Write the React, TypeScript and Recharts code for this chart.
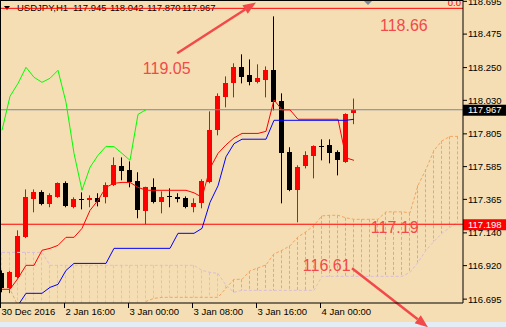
import { Bar, ComposedChart, Line, ReferenceDot, ReferenceLine, XAxis, YAxis } from "recharts";

const FONT = '"Liberation Sans", Arial, sans-serif';
const BG = "#F5DEB3";
const BULL = "#FF0000";
const BEAR = "#000000";
const ANNO = "#f24a4a";

// USDJPY H1, one entry per bar (red = up, black = down)
const opens = [
  116.868, 116.77, 116.841, 117.11, 117.365, 117.412, 117.332, 117.379, 117.473, 117.312,
  117.367, 117.359, 117.372, 117.379, 117.459, 117.587, 117.56, 117.486, 117.285, 117.446,
  117.345, 117.385, 117.379, 117.372, 117.312, 117.338, 117.479, 117.829, 118.05, 118.144,
  118.252, 118.198, 118.151, 118.164, 118.232, 118.023, 117.681, 117.426, 117.587, 117.654,
  117.723, 117.728, 117.681, 117.614, 117.945,
];
const highs = [
  116.888, 116.885, 117.157, 117.432, 117.432, 117.426, 117.406, 117.479, 117.486, 117.379,
  117.412, 117.392, 117.406, 117.479, 117.647, 117.647, 117.62, 117.547, 117.45, 117.506,
  117.419, 117.439, 117.406, 117.385, 117.372, 117.5, 117.956, 118.077, 118.191, 118.279,
  118.339, 118.305, 118.272, 118.258, 118.594, 118.077, 117.715, 117.594, 117.688, 117.728,
  117.768, 117.768, 117.694, 117.943, 118.042,
];
const lows = [
  116.741, 116.735, 116.835, 117.105, 117.278, 117.325, 117.312, 117.375, 117.312, 117.305,
  117.298, 117.312, 117.318, 117.338, 117.455, 117.493, 117.446, 117.238, 117.198, 117.338,
  117.271, 117.312, 117.345, 117.305, 117.278, 117.305, 117.473, 117.795, 117.983, 118.05,
  118.144, 118.131, 118.144, 118.05, 117.963, 117.338, 117.42, 117.211, 117.573, 117.506,
  117.627, 117.607, 117.526, 117.61, 117.87,
];
const closes = [
  116.768, 116.875, 117.117, 117.379, 117.412, 117.332, 117.392, 117.473, 117.318, 117.365,
  117.363, 117.372, 117.345, 117.459, 117.594, 117.553, 117.479, 117.291, 117.446, 117.345,
  117.379, 117.379, 117.365, 117.312, 117.338, 117.486, 117.829, 118.057, 118.144, 118.252,
  118.185, 118.151, 118.178, 118.232, 118.017, 117.674, 117.426, 117.58, 117.661, 117.721,
  117.719, 117.674, 117.627, 117.936, 117.967,
];

// Ichimoku
const tenkan = [
  116.761, 116.761, 116.835, 116.922, 116.922, 117.023, 117.036, 117.056, 117.11, 117.11,
  117.17, 117.291, 117.359, 117.446, 117.473, 117.479, 117.479, 117.446, 117.426, 117.426,
  117.426, 117.426, 117.426, 117.426, 117.409, 117.379, 117.573, 117.674, 117.731, 117.778,
  117.808, 117.808, 117.808, 117.822, 118.033, 117.966, 117.966, 117.903, 117.903, 117.903,
  117.903, 117.903, 117.903, 117.644, 117.627,
];
const kijun = [
  116.653, 116.653, 116.653, 116.734, 116.734, 116.734, 116.774, 116.794, 116.888, 116.935,
  116.935, 116.935, 116.935, 116.935, 117.036, 117.036, 117.036, 117.036, 117.036, 117.036,
  117.036, 117.036, 117.137, 117.137, 117.137, 117.17, 117.345, 117.456, 117.651, 117.739,
  117.769, 117.769, 117.769, 117.769, 117.896, 117.896, 117.896, 117.896, 117.896, 117.896,
  117.896, 117.896, 117.896, 117.896, 117.903,
];
const chikou = [
  117.829, 118.057, 118.144, 118.252, 118.185, 118.151, 118.178, 118.232, 118.017, 117.674,
  117.426, 117.58, 117.661, 117.721, 117.719, 117.674, 117.627, 117.936, 117.967,
];
const spanA = [
  116.761, 116.761, 116.65, 116.58, 116.56, 116.56, 116.56, 116.56, 116.56, 116.56,
  116.56, 116.56, 116.56, 116.56, 116.56, 116.58, 116.6, 116.62, 116.68, 116.7,
  116.707, 116.707, 116.707, 116.707, 116.707, 116.707, 116.707, 116.707, 116.768, 116.828,
  116.828, 116.885, 116.905, 116.925, 116.999, 117.023, 117.053, 117.113, 117.147, 117.191,
  117.254, 117.258, 117.258, 117.241, 117.231, 117.231, 117.231, 117.231, 117.281, 117.281,
  117.281, 117.275, 117.459, 117.567, 117.694, 117.758, 117.788, 117.788,
];
const spanB = [
  117.009, 117.009, 117.009, 117.009, 117.009, 117.009, 116.922, 116.922, 116.922, 116.922,
  116.922, 116.922, 116.922, 116.922, 116.922, 116.922, 116.922, 116.922, 116.922, 116.922,
  116.922, 116.922, 116.922, 116.922, 116.922, 116.888, 116.875, 116.868, 116.788, 116.741,
  116.754, 116.754, 116.754, 116.754, 116.754, 116.754, 116.754, 116.754, 116.754, 116.754,
  116.848, 116.848, 116.848, 116.848, 116.848, 116.848, 116.848, 116.848, 116.848, 116.848,
  116.848, 116.875, 116.942, 117.023, 117.083, 117.137, 117.177, 117.211,
];

const timeTicks = [0, 8, 16, 24, 32, 40];
const timeLabels = ["30 Dec 2016", "2 Jan 16:00", "3 Jan 00:00", "3 Jan 08:00", "3 Jan 16:00", "4 Jan 00:00"];
const priceTicks = [116.695, 116.92, 117.14, 117.365, 117.585, 117.805, 118.03, 118.25, 118.475, 118.695];

const BID = 117.967;
const LOW_LINE = 117.198;
const FIBO_0 = 118.648;

const rows = spanA.map((a, i) => ({
  i,
  o: opens[i] ?? null,
  h: highs[i] ?? null,
  l: lows[i] ?? null,
  c: closes[i] ?? null,
  tenkan: tenkan[i] ?? null,
  kijun: kijun[i] ?? null,
  chikou: chikou[i] ?? null,
  a,
  b: spanB[i],
}));

function Candle(props: any) {
  const { x, y, width, height, payload } = props;
  if (payload.o == null) return null;
  const top = Math.min(y, y + height);
  const h = Math.abs(height);
  const k = h / (payload.h - payload.l || 1);
  const bodyTop = top + (payload.h - Math.max(payload.o, payload.c)) * k;
  const bodyBot = top + (payload.h - Math.min(payload.o, payload.c)) * k;
  const bx = Math.round(x + width / 2 - 2.5);
  const color = payload.c >= payload.o ? BULL : BEAR;
  return (
    <g>
      <line x1={bx + 2.5} x2={bx + 2.5} y1={top} y2={top + h} stroke={color} />
      <rect x={bx} y={Math.round(bodyTop)} width={5} height={Math.max(1, Math.round(bodyBot - bodyTop))} fill={color} />
    </g>
  );
}

function Hatch(props: any) {
  const { x, y, width, height, payload } = props;
  const cx = Math.round(x + width / 2 - 2.5) + 2.5;
  const color = payload.a > payload.b ? "#F4A460" : "#D8BFD8";
  return <line x1={cx} x2={cx} y1={y} y2={y + height} stroke={color} strokeDasharray="3 2" />;
}

function TimeTick({ x, y, payload }: any) {
  const label = timeLabels[timeTicks.indexOf(payload.value)];
  const tx = Math.round(x) - 1.5;
  return (
    <g>
      <line x1={tx} x2={tx} y1={y} y2={y + 5} stroke="#000" />
      <text x={tx + 1} y={y + 11.5} fontSize={9.5} fontFamily={FONT} fill="#000">
        {label}
      </text>
    </g>
  );
}

const axisBox = (text: string, fill: string) => (p: any) => {
  const vb = p.viewBox;
  const x = vb.x + vb.width;
  return (
    <g>
      <rect x={x} y={vb.y - 5} width={43} height={11} fill={fill} />
      <text x={x + 5} y={vb.y} dy="0.355em" fill="#fff" fontSize={9.5} fontFamily={FONT}>
        {text}
      </text>
    </g>
  );
};

function Arrow(p: any) {
  const { x1, y1, x2, y2 } = p;
  const ang = Math.atan2(y2 - y1, x2 - x1);
  const L = 13;
  const W = 5;
  const bx = x2 - L * Math.cos(ang);
  const by = y2 - L * Math.sin(ang);
  const px = -Math.sin(ang) * W;
  const py = Math.cos(ang) * W;
  return (
    <g>
      <line x1={x1} y1={y1} x2={bx} y2={by} stroke={ANNO} strokeWidth={2.5} />
      <polygon points={`${x2},${y2} ${bx + px},${by + py} ${bx - px},${by - py}`} fill={ANNO} />
    </g>
  );
}

const note = (text: string) => (p: any) => (
  <text x={p.cx} y={p.cy} fontSize={16} fontFamily={FONT} fill={ANNO}>
    {text}
  </text>
);

export default function App() {
  return (
    <div style={{ position: "fixed", left: 0, top: 0, width: 506, height: 327, background: BG }}>
      {/* chart header, under the plot */}
      <svg width={506} height={327} style={{ position: "absolute", left: 0, top: 0 }}>
        <polygon points="4,6 10,6 7,10" fill="#000" />
        <g fontSize={9.5} fontFamily={FONT} fill="#000">
          <text x={17} y={11}>USDJPY,H1</text>
          <text x={73} y={11}>117.945</text>
          <text x={110} y={11}>118.042</text>
          <text x={147} y={11}>117.870</text>
          <text x={182} y={11}>117.967</text>
        </g>
        <rect x={0} y={322} width={506} height={5} fill="#e4ecf5" />
      </svg>
      <div style={{ position: "absolute", left: 0, top: 0 }}>
        <ComposedChart width={506} height={327} data={rows} margin={{ top: 0, right: 0, bottom: 0, left: 1 }}>
          <XAxis
            dataKey="i"
            type="number"
            domain={[-0.125, 57.625]}
            allowDataOverflow
            ticks={timeTicks}
            interval={0}
            tick={<TimeTick />}
            tickLine={false}
            tickSize={0}
            tickMargin={0}
            height={24}
            axisLine={{ stroke: "#000" }}
          />
          <XAxis xAxisId="h" dataKey="i" type="number" domain={[-0.125, 57.625]} allowDataOverflow hide />
          <YAxis
            orientation="right"
            width={43}
            domain={[116.669, 118.704]}
            allowDataOverflow
            ticks={priceTicks}
            interval={0}
            tickFormatter={(v: number) => v.toFixed(3)}
            tick={{ fontSize: 9.5, fill: "#000", fontFamily: FONT }}
            tickLine={{ stroke: "#000" }}
            tickSize={4}
            tickMargin={1}
            axisLine={{ stroke: "#000" }}
          />
          <Bar
            xAxisId="h"
            dataKey={(d: any) => [Math.min(d.a, d.b), Math.max(d.a, d.b)]}
            barSize={5}
            shape={<Hatch />}
            isAnimationActive={false}
          />
          <Line dataKey="a" stroke="#F4A460" strokeDasharray="3 2" dot={false} activeDot={false} isAnimationActive={false} />
          <Line dataKey="b" stroke="#D8BFD8" strokeDasharray="3 2" dot={false} activeDot={false} isAnimationActive={false} />
          <ReferenceLine y={BID} stroke="#778899" label={axisBox("117.967", "#000")} />
          <ReferenceLine y={LOW_LINE} stroke="#FF0000" label={axisBox("117.198", "#FF0000")} />
          <Bar
            dataKey={(d: any) => (d.h == null ? null : [d.l, d.h])}
            barSize={5}
            shape={<Candle />}
            isAnimationActive={false}
          />
          <Line dataKey="tenkan" stroke="#FF0000" dot={false} activeDot={false} isAnimationActive={false} />
          <Line dataKey="kijun" stroke="#0000FF" dot={false} activeDot={false} isAnimationActive={false} />
          <Line dataKey="chikou" stroke="#00FF00" dot={false} activeDot={false} isAnimationActive={false} />
          <ReferenceLine
            y={FIBO_0}
            stroke="#FF0000"
            label={(p: any) => (
              <text x={p.viewBox.x + p.viewBox.width - 2} y={p.viewBox.y - 2} textAnchor="end" fontSize={9.5} fontFamily={FONT} fill="#FF0000">
                0.0
              </text>
            )}
          />
          <ReferenceDot
            x={45.75}
            y={118.704}
            ifOverflow="visible"
            shape={(p: any) => <polygon points={`${p.cx - 5},${p.cy} ${p.cx + 5},${p.cy} ${p.cx},${p.cy + 5}`} fill="#7b8a99" />}
          />
          <ReferenceLine segment={[{ x: 21.9, y: 118.346 }, { x: 31.75, y: 118.688 }]} ifOverflow="visible" shape={Arrow} />
          <ReferenceLine segment={[{ x: 43.75, y: 116.902 }, { x: 53.25, y: 116.506 }]} ifOverflow="visible" shape={Arrow} />
          <ReferenceDot x={17.6} y={118.205} ifOverflow="visible" shape={note("119.05")} />
          <ReferenceDot x={47.25} y={118.497} ifOverflow="visible" shape={note("118.66")} />
          <ReferenceDot x={46.1} y={117.137} ifOverflow="visible" shape={note("117.19")} />
          <ReferenceDot x={37.6} y={116.885} ifOverflow="visible" shape={note("116.61")} />
        </ComposedChart>
      </div>
      <div style={{ position: "absolute", left: 0, top: 0, width: 463, height: 303, borderLeft: "1px solid #000", borderTop: "1px solid #000", boxSizing: "border-box", pointerEvents: "none" }} />
    </div>
  );
}
